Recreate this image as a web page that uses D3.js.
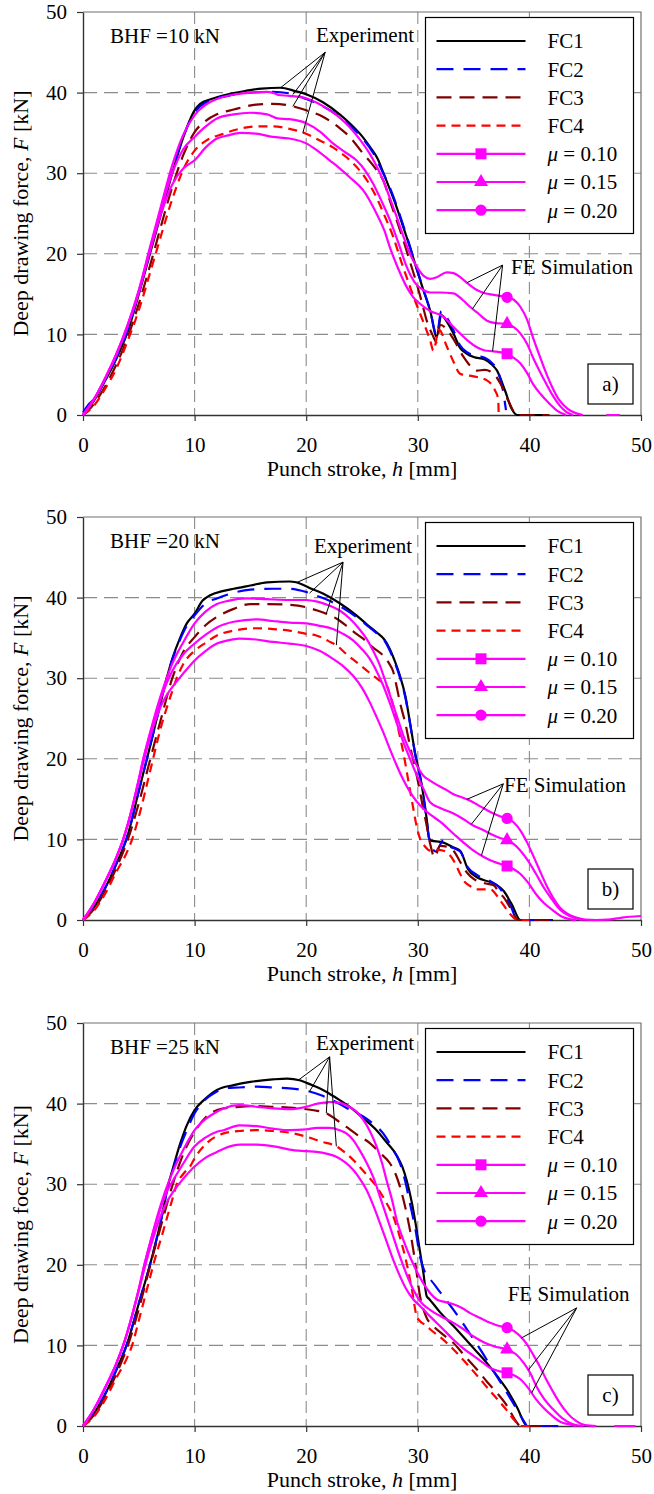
<!DOCTYPE html>
<html>
<head>
<meta charset="utf-8">
<script src="https://cdn.jsdelivr.net/npm/d3@7"></script>
<style>
  body { margin: 0; background: #fff; }
</style>
</head>
<body>
<div id="chart"></div>
<script>
// ---- data (punch stroke h [mm], force F [kN]) ----
const hTicks = [0, 10, 20, 30, 40, 50];
const fTicks = [0, 10, 20, 30, 40, 50];
const seriesNames = ["FC1", "FC2", "FC3", "FC4", "0.10", "0.15", "0.20"];
const bhfLabels = ["BHF =10 kN", "BHF =20 kN", "BHF =25 kN"];
const panelTags = ["a)", "b)", "c)"];
const yTitles = ["Deep drawing force, ", "Deep drawing force, ", "Deep drawing foce, "];
const markerStroke = 38;

// panel a, BHF = 10 kN
const a_FC1 = [[0,0],[1,1.8],[2,4.3],[3,7],[4,10.3],[5,15],[6,20],[7,25],[8,30],[9,34.5],[10,37.8],[10.5,38.6],[11.5,39.2],[13,39.8],[14.5,40.2],[16,40.5],[17.7,40.6],[19,40.2],[20,39.8],[21.5,38.8],[23,37.3],[23.9,36.2],[25,34.6],[25.7,33.3],[26.4,31.8],[26.9,30.1],[27.5,28],[28.1,25.8],[28.7,23.3],[29.3,20.8],[29.9,18.1],[30.5,15.5],[31.1,13],[31.7,9.7],[32.1,12.4],[32.6,11.6],[33.2,10.1],[33.8,8.3],[34.4,7.6],[35,7.2],[36,6.9],[36.6,6.3],[37.1,5.5],[37.8,3.1],[38.4,0.8],[38.9,0],[41.2,0]];
const a_FC2 = [[0,0.3],[0.5,1.3],[1,2],[2,4.4],[3,7.2],[4,10.6],[5,15.2],[6,20.3],[7,25.5],[8,30.4],[9,34.6],[10,37.5],[10.5,38.3],[11.5,39.1],[13,39.6],[15,40],[17,40.1],[18.5,39.9],[20,39.2],[21.5,38.3],[23,37],[24,35.8],[25,34.4],[26,32.5],[26.9,30],[27.5,28.2],[28.1,26],[28.7,23.5],[29.3,20.9],[29.9,18.2],[30.5,15.6],[31.1,13],[31.7,9.9],[32.1,12.9],[32.6,12.1],[33.2,10.5],[33.8,8.6],[34.4,7.8],[35,7.4],[36,7.1],[36.6,6.5],[37.1,5.6],[37.6,3.3],[37.9,0.6]];
const a_FC3 = [[0,0],[1,1.4],[2,3.6],[3,6.3],[4,9.6],[5,13.8],[6,18.5],[7,23.5],[8,28.3],[9,32.3],[10,35.1],[11,36.5],[12,37.3],[13.5,37.9],[15.5,38.5],[17,38.6],[18.5,38.4],[20,37.8],[21.5,37],[23,35.6],[23.9,34.5],[25,32.6],[26.3,30.4],[27,28.8],[27.5,26.6],[28.1,24.2],[28.7,21.7],[29.3,19],[29.9,16.3],[30.4,13.8],[30.8,11.7],[31.3,10],[31.7,9],[32,11.2],[32.5,10.8],[33.2,9.4],[34.1,7.2],[34.7,6.1],[35.3,5.5],[36,5.6],[36.5,5.4],[37,4.8],[37.4,3.9],[38.1,1.8],[38.9,0],[41.8,0]];
const a_FC4 = [[0,0],[1,1.2],[2,3.3],[3,5.8],[4,9.2],[5,13],[6,17.6],[7,22.3],[8,26.8],[9,30.5],[10,32.8],[11,34],[12.6,34.9],[14,35.5],[15.5,35.8],[17,35.8],[18.5,35.5],[20,34.9],[21,34.2],[22.4,33.2],[23.5,32.1],[24.5,30.8],[25.5,29],[26.3,27],[27,24.8],[27.8,22.1],[28.5,19.1],[29.3,15.9],[29.8,14],[30.2,12.6],[30.7,10.8],[31.1,9.3],[31.4,8],[31.9,10.6],[32.6,8.5],[33.2,6.6],[33.8,5.1],[35,4.8],[36.2,4.3],[36.9,3.1],[37.2,2],[37.25,0]];
const a_mu10 = [[0,0],[1,2],[2,4.6],[3,7.5],[4,11],[5,15.2],[6,20.3],[7,25],[8,28.6],[9,30.6],[10,31.6],[11,33.2],[12,34.3],[13,34.7],[14.1,35],[15.5,34.9],[17,34.5],[18.5,34.3],[20,33.7],[21,32.8],[22.1,31.6],[23,30.6],[23.9,29.5],[25.1,27.9],[26.3,25],[27,22.9],[27.5,20.8],[28.2,18.3],[29,15.9],[29.6,14.6],[30.2,13.8],[31.1,12.9],[32.3,12.2],[33,11.2],[33.8,10.1],[34.5,9.2],[35.3,8.4],[36,8],[36.8,7.9],[38,7.6],[38.6,7.1],[39.2,6.4],[39.8,5.2],[40.3,3.9],[41,2.6],[41.8,1.4],[42.5,0.5],[43.3,0]];
const a_mu15 = [[0,0],[1,2],[2,4.6],[3,7.6],[4,11.1],[5,15.4],[6,20.6],[7,25.6],[8,30],[9,33],[10,34.5],[11,35.8],[12,36.8],[13.5,37.3],[15,37.5],[16.5,37.3],[17.4,36.8],[18.5,36.7],[20,36.2],[21.2,35.2],[22.4,33.7],[23.5,32.6],[24.5,31.6],[25.3,30.3],[26,28.7],[26.8,26.4],[27.5,24.2],[28.3,21.2],[29,18.4],[29.7,16.5],[30.5,15.5],[31.1,15.2],[32,15.2],[33.2,15.1],[34,14.3],[34.7,13.4],[35.5,12.5],[36.2,11.7],[37,11.4],[38,11.3],[38.6,10.9],[39.2,10.1],[39.8,8.8],[40.3,7.2],[40.9,5.5],[41.5,3.9],[42.1,2.4],[42.7,1.2],[43.3,0.4],[43.9,0]];
const a_mu20 = [[0,0],[1,2],[2,4.6],[3,7.6],[4,11.2],[5,15.5],[6,20.8],[7,26],[8,31],[9,34.8],[10,37.2],[11,38.5],[12,39.2],[13.3,39.7],[15,40],[16.5,40.1],[17.2,39.9],[17.5,39.7],[18.5,39.6],[20,39.3],[21,38.7],[22.1,37.8],[23,36.9],[23.9,35.7],[24.8,34.2],[25.7,32.4],[26.3,30.9],[26.9,29.1],[27.5,26.9],[28.1,24.6],[28.7,22.2],[29.3,20],[29.9,18.4],[30.5,17.3],[31.1,16.9],[31.7,17.1],[32.6,17.7],[33.2,17.6],[33.8,17.1],[34.5,16.3],[35.3,15.5],[36,15.1],[36.8,14.9],[38,14.6],[38.6,14.3],[39.2,13.4],[39.8,11.8],[40.3,9.7],[40.9,7.4],[41.5,5.2],[42.1,3.3],[42.7,1.8],[43.4,0.8],[44.2,0.2],[44.8,0],[45.8,null],[46.9,0],[48.1,0]];

// panel b, BHF = 20 kN
const b_FC1 = [[0,0],[1,1.6],[2,4],[3,7],[4,10.5],[5,16],[6,21.5],[7,27.2],[7.5,30],[8,32.4],[8.7,35],[9.3,36.8],[10,38],[10.7,39.6],[11.4,40.3],[12.5,40.8],[13.5,41.1],[15,41.5],[16.5,41.9],[18.5,42],[19.1,41.9],[20.3,41.2],[21.5,40.5],[23,39.3],[24.5,37.8],[25.5,36.6],[26.3,35.7],[27,34.8],[27.5,33.6],[28,31.9],[28.4,30.3],[28.9,27.7],[29.3,24.5],[29.8,20.4],[30.2,17.9],[30.5,15.5],[30.8,12.5],[31,10.2],[31.2,9.85],[32,9.7],[32.3,9.6],[33.2,9],[33.8,8.6],[34.5,6.3],[35.3,5.3],[36.5,4.7],[37.1,4.3],[37.7,3.6],[38.4,2],[39.2,0],[42.1,0]];
const b_FC2 = [[0,0],[1,1.6],[2,4],[3,7],[4,10.5],[5,16],[6,21.5],[7,27.2],[7.5,30],[8,32.3],[8.7,34.8],[9.3,36.5],[10,37.8],[11,39.3],[12,39.9],[13.5,40.6],[15,41],[17,41.1],[18.5,41.1],[20,40.7],[21,40.2],[22.1,39.6],[23.3,38.7],[24.5,37.6],[25.5,36.5],[26.3,35.6],[27,34.7],[27.5,33.4],[28,31.7],[28.4,30.1],[28.9,27.5],[29.3,24.4],[29.8,20.3],[30.2,17.8],[30.5,15.3],[30.8,12.4],[31,10.2],[31.2,9.2],[31.6,8.5],[32.3,9.9],[32.8,9.2],[33.4,8.8],[33.8,8.5],[34.5,6.5],[35.3,5.6],[36.5,4.8],[37.2,4.2],[37.8,3],[38.4,1.5],[38.9,0],[42,0]];
const b_FC3 = [[0,0],[1,1.4],[2,3.6],[3,6.5],[4,9.9],[5,14.5],[6,19.8],[7,25],[8,30],[9,33.3],[10,35.1],[11,36.6],[12,37.6],[13.5,38.6],[15,39.2],[16.5,39.2],[18.5,39.1],[20,38.8],[21,38.4],[21.8,38],[22.7,37.4],[23.6,36.5],[24.4,35.6],[25.1,34.9],[26,33.8],[26.9,32.8],[27.4,31.9],[27.8,30.8],[28.1,29],[28.4,27],[28.9,24.3],[29.3,21.6],[29.8,18.6],[30.2,15.9],[30.5,13.7],[30.8,11.7],[31.1,9.5],[31.5,7.8],[32,9.2],[32.6,9.1],[33.2,8.6],[33.8,7.2],[34.4,5.9],[35,5.1],[35.6,4.7],[36.2,4.5],[36.8,4.3],[37.3,3.4],[37.7,2.8],[38.2,1.7],[38.6,0.7],[39,0],[42,0]];
const b_FC4 = [[0,0],[1,1.2],[2,3.3],[3,6],[4,8.6],[4.4,10],[5,12.8],[6,18.4],[7,24],[8,28.4],[8.4,30],[9,31.8],[10,33.4],[11,34.4],[12,35.3],[13.5,35.9],[15.6,36.2],[17,36.1],[18.5,35.9],[20,35.5],[20.9,35.3],[22,34.6],[22.7,34.1],[23.6,33],[24.5,32],[25.3,31.1],[26,30.3],[26.6,29.7],[27.2,29.1],[27.5,28],[27.8,26.6],[28.2,24],[28.7,20.8],[29.1,17.7],[29.6,13.8],[29.9,11.6],[30.2,10.1],[30.6,9.2],[31.1,8.6],[31.8,8.7],[32.3,8.6],[33.2,7.4],[33.7,6],[34.1,4.9],[34.7,4.2],[35.3,3.8],[36.5,3.8],[37.4,2.4],[38.3,0.7],[38.9,0],[40,0]];
const b_mu10 = [[0,0],[1,2.1],[2,4.8],[3,7.8],[3.6,10],[4,11.8],[5,17.2],[5.4,19.5],[6,22.6],[7,26.6],[8,28.9],[8.7,30.1],[9.3,31.1],[10,32.2],[11,33.4],[12,34.3],[13,34.7],[14,34.9],[15.5,34.8],[17,34.5],[18.5,34.3],[20,34],[21.2,33.4],[22.4,32.4],[23.3,31.5],[24.2,30.3],[25,28.8],[25.7,27],[26.3,25.2],[26.9,23.3],[27.5,21.2],[28.1,19.2],[28.7,17.4],[29.3,15.9],[29.9,14.7],[30.5,13.8],[31.1,13.1],[32,12.2],[33.2,10.7],[34.1,9.6],[35,8.6],[35.8,7.9],[36.5,7.4],[37.3,7],[38,6.7],[38.6,6.3],[39.2,5.7],[39.9,4.6],[40.6,3.2],[41.3,2.1],[42.1,1.2],[42.8,0.5],[43.6,0.1],[44.2,0]];
const b_mu15 = [[0,0],[1,2.1],[2,4.8],[3,7.8],[3.6,10],[4,11.8],[5,17.4],[5.4,19.9],[6,23],[7,27.6],[7.5,29.4],[8,30.9],[9,33],[10,34.3],[11,35.4],[12,36.3],[13.5,37],[15.6,37.3],[17,37.1],[18.5,36.9],[20,36.8],[21.2,36.5],[22.4,36.1],[23.3,35.5],[24.2,34.7],[25,33.6],[25.7,32.4],[26.3,30.9],[26.9,29.1],[27.5,26.9],[28.1,24.5],[28.7,22.1],[29.3,20],[29.9,18],[30.5,16.3],[31.1,14.6],[32,13.9],[33.2,13.2],[34.1,12.5],[35,11.7],[35.8,11.2],[36.5,10.7],[37.3,10.2],[38,9.9],[38.6,9.4],[39.2,8.6],[39.9,7.3],[40.6,5.7],[41.3,4],[42.1,2.4],[42.8,1.2],[43.6,0.5],[44.8,0]];
const b_mu20 = [[0,0],[1,2.1],[2,4.8],[3,7.8],[3.6,10],[4,11.8],[5,17.5],[5.4,20],[6,23.2],[7,28],[7.5,30],[8,31.8],[9,34.5],[10,36.8],[11,38.3],[12,39.2],[13,39.6],[14.7,39.9],[16.5,39.8],[18.5,39.7],[20,39.7],[21,39.5],[22.1,39],[23,38.4],[23.9,37.4],[24.7,36.2],[25.4,34.9],[26,33.4],[26.6,31.6],[27.1,29.6],[27.5,27.9],[28.1,25.4],[28.7,22.9],[29.3,20.9],[29.9,19.2],[30.5,17.9],[31.1,17.3],[31.8,16.7],[32.5,16.2],[33.2,15.6],[34,15.2],[34.7,14.8],[35.6,14.1],[36.5,13.4],[37.3,12.9],[38,12.6],[38.6,12.1],[39.2,11.1],[39.8,9.6],[40.4,7.8],[41,5.9],[41.6,4.1],[42.1,2.8],[42.7,1.6],[43.4,0.8],[44.2,0.3],[45,0.05],[46,0],[47,0.05],[48.1,0.25],[49,0.4],[50,0.5]];

// panel c, BHF = 25 kN
const c_FC1 = [[0,0],[1,1.6],[2,4],[3,7],[3.9,10],[5,15.2],[6,20],[7,25.6],[7.65,30],[8,31.7],[8.7,35],[9.3,37.3],[10,39.2],[10.8,40.4],[12,41.7],[13.5,42.3],[15,42.7],[17,43],[18.3,43.1],[19.4,42.9],[20.5,42.3],[21.5,41.7],[22.7,40.7],[23.9,39.6],[25.1,38.2],[26.3,36.7],[27.2,35.2],[28.1,33.6],[28.6,32.2],[29,30.5],[29.5,27.5],[29.9,24.3],[30.2,21.6],[30.5,19],[30.8,16.1],[31,15.8],[32,14.1],[33.2,12.4],[34.7,10.1],[36.2,7.8],[37.1,6.2],[38,4.5],[38.9,2.3],[39.8,0],[40.5,0]];
const c_FC2 = [[0,0],[1,1.6],[2,4],[3,7],[3.9,10],[5,15.2],[6,20],[7,25.6],[7.65,30],[8,31.5],[8.7,34.6],[9.3,36.7],[10,38.8],[10.8,40.3],[12,41.5],[12.6,41.9],[14,42],[15.6,42.1],[17,42],[18.5,41.9],[20.3,41.5],[21.4,41],[22.4,40.4],[23.7,39.4],[25.1,38.4],[26,37.5],[26.9,36.3],[27.7,34.5],[28.4,32.6],[28.9,30.2],[29.3,27.6],[29.8,24.3],[30.2,21],[30.5,19.6],[30.8,18.6],[31.1,18.2],[32,16.6],[33.2,14.4],[34.4,12],[35.6,9.5],[36.8,6.8],[38,4.1],[38.9,2],[39.6,0.4],[39.8,0],[43.3,0]];
const c_FC3 = [[0,0],[1,1.4],[2,3.6],[3,6.5],[4,9.9],[5,14.5],[6,19.8],[7,24.9],[8,29.8],[9,33.8],[10,36.5],[11,38.3],[12.6,39.4],[14,39.6],[15.6,39.7],[17,39.6],[18.5,39.5],[20,39.3],[21,39.1],[21.8,38.8],[22.7,38],[23.6,37.1],[24.6,36.1],[25.7,35.1],[26.6,33.9],[27.5,32.6],[28,31.3],[28.4,29.7],[28.9,27],[29.3,24.3],[29.8,20],[30.2,16.1],[30.5,14.5],[30.8,13.4],[31.4,12.4],[32.3,11.3],[33.2,10.3],[34.2,8.7],[35.3,7],[36.2,5.5],[37.1,4.1],[38,2.5],[38.7,0.8],[39.2,0],[42,0]];
const c_FC4 = [[0,0],[1,1.2],[2,3.3],[3,6],[4,8.6],[4.4,10],[5,13.1],[6,18.4],[6.3,20],[7,23.3],[8,28.1],[8.4,30],[9,31.3],[9.6,32.2],[10,33.2],[11.1,35.1],[12.6,36.3],[14,36.6],[15.6,36.7],[17,36.6],[18.5,36.4],[20,35.9],[21.3,35.3],[22.7,34.7],[23.6,33.8],[24.5,32.6],[25.4,31.2],[26.3,29.7],[27.1,27.9],[27.8,26],[28.4,23.4],[29,20.2],[29.5,16.7],[29.9,13.6],[30.2,13],[30.6,12.6],[31.1,12],[32.2,10.8],[33.2,9.5],[34.4,7.7],[35.6,5.8],[36.5,4.3],[37.4,2.9],[38,1.9],[38.6,0.8],[39.2,0],[40.2,0]];
const c_mu10 = [[0,0],[1,2.1],[2,4.8],[3,7.8],[3.6,10],[5,16.8],[5.5,19.5],[6,22],[7,26.2],[7.6,28],[8,28.9],[9,30.7],[10,32.2],[11,33.3],[12,34],[12.6,34.4],[14.1,34.9],[15.6,34.9],[17.1,34.7],[18.5,34.3],[20,34.1],[20.9,34],[21.8,33.8],[22.7,33.4],[23.5,32.7],[24.2,31.8],[24.8,30.7],[25.4,29.3],[26,27.4],[26.6,25.2],[27.2,22.9],[27.8,20.6],[28.4,18.6],[29,16.9],[29.6,15.7],[30.2,14.9],[31.1,13.6],[32.2,12.1],[33.2,10.7],[34.1,9.6],[35,8.7],[35.8,7.9],[36.5,7.2],[37.3,6.8],[38,6.6],[38.6,6.3],[39.2,5.8],[39.9,4.7],[40.6,3.3],[41.3,2.2],[42.1,1.2],[42.8,0.5],[43.6,0.2],[44.2,0]];
const c_mu15 = [[0,0],[1,2.1],[2,4.8],[3,7.8],[3.6,10],[5,17],[5.5,20],[6,22.6],[7,27.2],[7.6,29.3],[8,30.3],[9,32.6],[10,34.7],[11,35.8],[12,36.5],[12.6,36.7],[14,37.3],[15.6,37.2],[17,36.9],[18.5,36.7],[20,36.8],[21,37],[22.1,37],[23,36.7],[23.6,36.3],[24.2,35.5],[24.8,34.2],[25.4,32.7],[26,30.9],[26.6,28.5],[27.2,26],[27.8,23.5],[28.4,21],[29,18.8],[29.6,16.9],[30.2,15.5],[31.1,14.4],[32.2,13.5],[33.2,12.8],[34.1,12],[35,11.1],[35.9,10.4],[36.8,9.9],[38,9.5],[38.8,8.9],[39.5,7.8],[40.1,6.5],[40.6,5],[41.3,3.4],[42.1,2.1],[43,0.9],[43.9,0.2],[44.8,0]];
const c_mu20 = [[0,0],[1,2.1],[2,4.8],[3,7.8],[3.6,10],[5,17],[5.5,20],[6,22.7],[7,27.6],[7.6,30],[8,31.4],[9,34.3],[10,36.7],[11,38.1],[12,39],[12.6,39.4],[14,39.8],[15.6,39.6],[17,39.4],[18.5,39.3],[20,39.6],[21,40],[22.1,40.2],[23,40.1],[23.6,39.8],[24.5,39],[25.1,38],[25.7,36.6],[26.3,34.7],[26.8,32.6],[27.2,30.5],[27.7,28],[28.1,25.6],[28.7,23.1],[29.3,21],[29.9,19.2],[30.5,17.7],[31.1,16.5],[31.7,15.7],[32.4,15.4],[33.2,15.1],[34,14.6],[34.7,14],[35.6,13.4],[36.5,12.8],[37.3,12.4],[38,12.2],[38.6,11.8],[39.2,11.1],[39.8,10.1],[40.4,8.7],[41,7.2],[41.5,5.8],[42.1,4.3],[42.7,2.9],[43.4,1.6],[44.2,0.6],[45,0.1],[46,0],[46.8,null],[47.6,0],[49.5,0]];

// ---- panels (annotation anchors in data units) ----
const panels = [
  { top: 12, series: [a_FC1, a_FC2, a_FC3, a_FC4, a_mu10, a_mu15, a_mu20],
    exp: { text: [20.88, 46.3], apex: [21.7, 45.0], targets: [[0, 17.7], [1, 18.8], [2, 18.8], [3, 19.7]] },
    fe:  { text: [38.35, 17.5], apex: [37.6, 18.6], targets: [[6, 34.4], [5, 34.9], [4, 36.7]] } },
  { top: 517, series: [b_FC1, b_FC2, b_FC3, b_FC4, b_mu10, b_mu15, b_mu20],
    exp: { text: [20.7, 45.5], apex: [23.3, 44.4], targets: [[0, 19.15], [1, 20.3], [2, 21.8], [3, 22.7]] },
    fe:  { text: [37.72, 15.9], apex: [37.66, 16.9], targets: [[6, 34.4], [5, 34.8], [4, 35.7]] } },
  { top: 1023, series: [c_FC1, c_FC2, c_FC3, c_FC4, c_mu10, c_mu15, c_mu20],
    exp: { text: [20.88, 46.7], apex: [22.1, 45.8], targets: [[0, 19.3], [1, 20.3], [2, 21.8], [3, 22.7]] },
    fe:  { text: [38.05, 15.5], apex: [44.24, 14.65], targets: [[6, 39.3], [5, 39.9], [4, 40.2]] } }
];

const styles = [
  { color: "#000000", dash: null },
  { color: "#0000ff", dash: "17,10" },
  { color: "#800000", dash: "15,8" },
  { color: "#ff0000", dash: "9,6" },
  { color: "#ff00ff", dash: null, marker: d3.symbolSquare, size: 121 },
  { color: "#ff00ff", dash: null, marker: d3.symbolTriangle, size: 85 },
  { color: "#ff00ff", dash: null, marker: d3.symbolCircle, size: 100 }
];

const FONT = '"Liberation Serif", "DejaVu Serif", "Times New Roman", serif';
const W = 654, H = 1494;
const left = 83, plotW = 558, plotH = 403;

const svg = d3.select("#chart").append("svg")
  .attr("width", W).attr("height", H)
  .attr("font-family", FONT)
  .style("background", "#fff");

function txt(sel, size) {
  return sel.style("font-family", FONT).style("font-size", size + "px").attr("fill", "#000");
}

function valueAt(series, h) {
  for (let i = 0; i < series.length - 1; i++) {
    const p = series[i], q = series[i + 1];
    if (p[1] === null || q[1] === null) continue;
    if (h >= p[0] && h <= q[0]) return p[1] + (q[1] - p[1]) * (h - p[0]) / (q[0] - p[0]);
  }
  return 0;
}

panels.forEach(function (p, pi) {
  const x = d3.scaleLinear().domain([0, 50]).range([left, left + plotW]);
  const y = d3.scaleLinear().domain([0, 50]).range([p.top + plotH, p.top]);
  const g = svg.append("g");

  // grid
  g.selectAll(".hg").data(fTicks.filter(v => v > 0 && v < 50)).enter().append("line")
    .attr("x1", left).attr("x2", left + plotW)
    .attr("y1", d => y(d)).attr("y2", d => y(d))
    .attr("stroke", "#8c8c8c").attr("stroke-width", 1.1).attr("stroke-dasharray", "14,7");
  g.selectAll(".vg").data(hTicks.filter(v => v > 0 && v < 50)).enter().append("line")
    .attr("y1", p.top).attr("y2", p.top + plotH)
    .attr("x1", d => x(d)).attr("x2", d => x(d))
    .attr("stroke", "#8c8c8c").attr("stroke-width", 1.1).attr("stroke-dasharray", "12,6");

  // frame top/right
  g.append("path")
    .attr("d", `M${left},${p.top}H${left + plotW}V${p.top + plotH}`)
    .attr("fill", "none").attr("stroke", "#707070").attr("stroke-width", 1.2);

  // axes
  const yAxis = g.append("g").attr("transform", `translate(${left},0)`)
    .call(d3.axisLeft(y).tickValues(fTicks).tickSize(6).tickSizeOuter(0).tickPadding(10));
  const xAxis = g.append("g").attr("transform", `translate(0,${p.top + plotH})`)
    .call(d3.axisBottom(x).tickValues(hTicks).tickSize(6).tickSizeOuter(0).tickPadding(16));
  [yAxis, xAxis].forEach(a => {
    a.attr("font-family", FONT);
    a.selectAll("path").attr("stroke", "#333").attr("stroke-width", 1.4);
    a.selectAll("line").attr("stroke", "#333").attr("stroke-width", 1.2);
    txt(a.selectAll("text"), 21);
  });

  // axis titles
  const yt = txt(g.append("text"), 22)
    .attr("transform", `translate(20,${p.top + plotH / 2}) rotate(-90)`)
    .attr("text-anchor", "middle").attr("dy", "0.35em");
  yt.append("tspan").text(yTitles[pi]);
  yt.append("tspan").style("font-style", "italic").text("F");
  yt.append("tspan").text(" [kN]");

  const xt = txt(g.append("text"), 22)
    .attr("x", left + plotW / 2).attr("y", p.top + plotH + 61)
    .attr("text-anchor", "middle");
  xt.append("tspan").text("Punch stroke, ");
  xt.append("tspan").style("font-style", "italic").text("h");
  xt.append("tspan").text(" [mm]");

  // curves
  const line = d3.line()
    .defined(d => d[1] !== null)
    .x(d => x(d[0])).y(d => y(d[1]))
    .curve(d3.curveMonotoneX);
  p.series.forEach(function (s, si) {
    const st = styles[si];
    g.append("path").datum(s)
      .attr("d", line)
      .attr("fill", "none")
      .attr("stroke", st.color)
      .attr("stroke-width", 2.2)
      .attr("stroke-dasharray", st.dash);
  });
  p.series.forEach(function (s, si) {
    const st = styles[si];
    if (!st.marker) return;
    const pt = s.find(d => d[0] === markerStroke);
    g.append("path")
      .attr("d", d3.symbol().type(st.marker).size(st.size)())
      .attr("transform", `translate(${x(pt[0])},${y(pt[1])})`)
      .attr("fill", st.color);
  });

  // annotations
  [p.exp, p.fe].forEach(function (an, ai) {
    an.targets.forEach(function (t) {
      g.append("line")
        .attr("x1", x(an.apex[0])).attr("y1", y(an.apex[1]))
        .attr("x2", x(t[1])).attr("y2", y(valueAt(p.series[t[0]], t[1])))
        .attr("stroke", "#000").attr("stroke-width", 1);
    });
    txt(g.append("text"), 21)
      .attr("x", x(an.text[0])).attr("y", y(an.text[1]))
      .text(ai === 0 ? "Experiment" : "FE Simulation");
  });

  txt(g.append("text"), 21)
    .attr("x", x(2.42)).attr("y", y(46.2))
    .text(bhfLabels[pi]);

  // legend
  const lg = g.append("g").attr("transform", `translate(${left + 342.5},${p.top + 5.5})`);
  lg.append("rect").attr("width", 208).attr("height", 216)
    .attr("fill", "#fff").attr("stroke", "#000").attr("stroke-width", 1.2);
  seriesNames.forEach(function (name, si) {
    const st = styles[si];
    const ry = 23.5 + si * 28.2;
    lg.append("line")
      .attr("x1", 11).attr("x2", 100).attr("y1", ry).attr("y2", ry)
      .attr("stroke", st.color).attr("stroke-width", 2.2)
      .attr("stroke-dasharray", st.dash);
    if (st.marker) {
      lg.append("path")
        .attr("d", d3.symbol().type(st.marker).size(st.size)())
        .attr("transform", `translate(55.5,${ry})`)
        .attr("fill", st.color);
    }
    const t = txt(lg.append("text"), 21).attr("x", 122).attr("y", ry).attr("dy", "0.35em");
    if (si < 4) {
      t.text(name);
    } else {
      t.append("tspan").style("font-style", "italic").text("\u03BC");
      t.append("tspan").text(" = " + name);
    }
  });

  // panel tag
  const tg = g.append("g").attr("transform", `translate(${left + plotW - 53},${p.top + plotH - 51})`);
  tg.append("rect").attr("width", 45).attr("height", 40)
    .attr("fill", "#fff").attr("stroke", "#000").attr("stroke-width", 1.2);
  txt(tg.append("text"), 21).attr("x", 22.5).attr("y", 20).attr("dy", "0.35em")
    .attr("text-anchor", "middle").text(panelTags[pi]);
});
</script>
</body>
</html>
